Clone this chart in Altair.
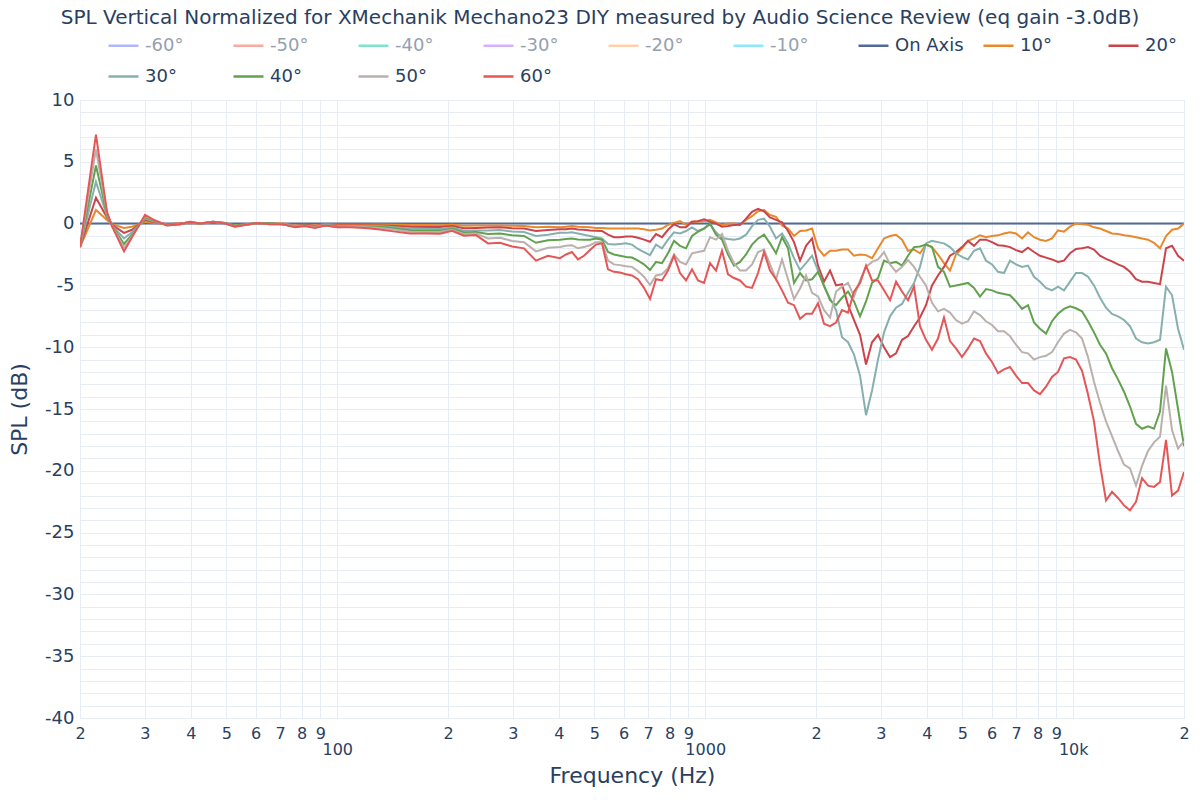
import altair as alt
import pandas as pd

TITLE = "SPL Vertical Normalized for XMechanik Mechano23 DIY measured by Audio Science Review (eq gain -3.0dB)"

SERIES = ["-60°", "-50°", "-40°", "-30°", "-20°", "-10°", "On Axis",
          "10°", "20°", "30°", "40°", "50°", "60°"]
COLORS = ["#b1b6fc", "#f7aa9d", "#7fe5ca", "#d5b1fc", "#ffd0ac", "#8ce9f9", "#53699c",
          "#e8892b", "#cc4449", "#86b0ae", "#62a14e", "#bab0ac", "#e45756"]
HIDDEN = SERIES[:6]

FREQ = [
    20.0, 22.1, 23.68, 24.43, 26.34, 27.69, 30.04, 31.99, 34.47, 37.39,
    39.81, 42.39, 45.97, 49.55, 52.76, 56.51, 60.54, 65.66, 71.23, 76.77,
    81.74, 87.01, 92.63, 100.5, 108.4, 119.0, 130.7, 143.6, 157.7, 173.2,
    190.2, 205.1, 221.1, 238.3, 256.9, 276.9, 298.6, 321.8, 346.8, 373.9,
    403.0, 418.4, 434.4, 451.0, 468.3, 486.2, 504.8, 524.1, 544.2, 565.0,
    586.7, 609.1, 632.5, 656.6, 681.8, 707.9, 734.9, 763.0, 792.2, 822.6,
    854.1, 886.8, 920.7, 955.9, 992.5, 1030.5, 1069.9, 1110.8, 1153.3, 1197.4,
    1243.3, 1290.9, 1340.3, 1391.5, 1444.8, 1500.0, 1557.4, 1617.0, 1678.9, 1743.1,
    1809.8, 1879.0, 1950.9, 2025.6, 2103.1, 2183.5, 2267.1, 2353.8, 2443.9, 2537.3,
    2634.4, 2735.2, 2839.8, 2948.5, 3061.3, 3178.4, 3300.0, 3426.3, 3557.4, 3693.5,
    3833.6, 3980.3, 4132.6, 4290.7, 4454.8, 4625.2, 4802.2, 4985.9, 5176.7, 5374.7,
    5581, 5794, 6016, 6246, 6485, 6733, 6991, 7259, 7536, 7825,
    8123, 8434, 8756, 9091, 9439, 9800, 10175, 10564, 10968, 11388,
    11825, 12277, 12747, 13235, 13741, 14267, 14813, 15380, 15968, 16579,
    17214, 17873, 18557, 19267, 20000]

ON_AXIS_FREQ = [20, 20000]
ON_AXIS_DB = [0.0, 0.0]

DB_10 = [
    -1.9, 1.1, 0.3, -0.05, -0.35, -0.25, 0.15, 0.05, -0.05, 0.0,
    0.05, 0.0, 0.1, 0.05, -0.15, -0.05, 0.05, 0.0, 0.0, -0.15,
    -0.1, -0.15, -0.05, -0.1, -0.1, -0.1, -0.07, -0.1, -0.12, -0.12,
    -0.13, -0.1, -0.18, -0.15, -0.16, -0.15, -0.18, -0.2, -0.3, -0.25,
    -0.3, -0.25, -0.2, -0.25, -0.28, -0.3, -0.35, -0.35, -0.4, -0.4,
    -0.4, -0.4, -0.4, -0.4, -0.45, -0.55, -0.5, -0.4, -0.1, 0.05,
    0.2, -0.1, 0.15, 0.15, 0.2, 0.3, 0.1, -0.1, 0.0, 0.0,
    -0.1, 0.3, 0.6, 1.0, 1.1, 0.7, 0.55, -0.15, -0.4, -1.0,
    -0.6, -0.55, -0.4, -2.0, -2.6, -2.2, -2.2, -2.1, -2.1, -2.6,
    -2.5, -2.55, -2.8, -2.0, -1.2, -1.0, -0.9, -1.3, -2.2, -2.1,
    -2.4, -1.7, -1.9, -2.5, -3.2, -3.8, -2.5, -2.0, -1.4, -1.2,
    -0.95, -1.1, -1.0, -0.95, -0.8, -0.7, -0.8, -1.2, -0.7, -1.1,
    -1.3, -1.4, -1.2, -0.55, -0.65, -0.25, 0.0, -0.05, -0.1, -0.3,
    -0.4, -0.6, -0.8, -0.85, -0.95, -1.0, -1.1, -1.2, -1.3, -1.55,
    -2.0, -1.0, -0.5, -0.4, 0.0]

DB_20 = [
    -1.9, 2.1, 0.5, -0.1, -0.75, -0.5, 0.3, 0.1, -0.05, 0.0,
    0.1, 0.0, 0.1, 0.05, -0.2, -0.1, 0.05, 0.0, -0.05, -0.2,
    -0.1, -0.2, -0.1, -0.15, -0.15, -0.15, -0.15, -0.2, -0.26, -0.27,
    -0.28, -0.2, -0.38, -0.35, -0.32, -0.3, -0.37, -0.4, -0.6, -0.52,
    -0.45, -0.45, -0.4, -0.47, -0.5, -0.55, -0.58, -0.6, -0.9, -1.1,
    -1.1, -1.05, -1.05, -1.15, -1.3, -1.47, -0.85, -1.1, -0.5, -0.05,
    -0.3, -0.3, 0.15, 0.2, 0.35, 0.15, 0.0, -0.25, -0.2, -0.12,
    -0.1, 0.4, 0.95, 1.2, 1.0, 0.5, 0.3, 0.1, -0.6, -1.5,
    -3.0, -1.8, -1.2, -3.4, -4.7, -3.8, -5.0, -4.9, -6.6, -7.8,
    -9.0, -11.4, -9.6, -9.0, -10.0, -10.8, -10.5, -9.4, -9.1, -8.3,
    -7.6, -6.6, -5.0, -4.2, -3.5, -2.6, -2.3, -1.9, -1.4, -1.8,
    -1.3, -1.3, -1.5, -1.75, -1.8, -1.9, -2.15, -2.3, -1.95, -2.3,
    -2.6, -2.75, -2.9, -3.1, -3.0, -2.4, -2.05, -2.0, -1.9, -2.1,
    -2.6, -2.85, -3.05, -3.3, -3.5, -3.9, -4.5, -4.7, -4.7, -4.8,
    -4.9, -2.0, -1.8, -2.6, -3.0]

DB_30 = [
    -1.9, 3.4, 0.6, -0.15, -1.2, -0.7, 0.4, 0.15, -0.1, -0.05,
    0.1, 0.0, 0.15, 0.05, -0.2, -0.1, 0.05, 0.0, -0.05, -0.2,
    -0.15, -0.25, -0.1, -0.2, -0.2, -0.2, -0.2, -0.3, -0.42, -0.42,
    -0.43, -0.32, -0.58, -0.55, -0.55, -0.52, -0.63, -0.68, -1.0, -0.9,
    -0.75, -0.75, -0.7, -0.8, -0.9, -1.0, -1.1, -1.2, -1.65, -1.7,
    -1.65, -1.6, -1.7, -2.05, -2.3, -2.55, -1.7, -2.0, -1.3, -0.7,
    -0.8, -0.6, -0.3, -0.6, -0.4, -0.05, -0.7, -1.15, -1.25, -1.3,
    -1.2, -0.9, -0.2, 0.3, 0.4, -0.25, -1.2, -0.8, -1.6, -2.8,
    -3.76, -3.2, -2.6, -3.8, -5.1, -6.05, -7.0, -9.2, -9.6, -10.6,
    -12.3, -15.5, -13.5, -11.0, -8.8, -7.5, -6.8, -6.5, -5.6, -4.8,
    -3.5, -1.6, -1.4, -1.5, -1.6, -1.9, -2.4, -2.7, -2.9, -2.2,
    -2.0, -3.0, -3.3, -3.9, -4.0, -3.0, -3.3, -3.5, -3.4, -4.3,
    -4.7, -5.2, -5.4, -5.1, -5.4, -4.7, -4.0, -4.0, -4.3, -5.0,
    -6.0, -6.8, -7.3, -7.5, -7.8, -8.3, -9.3, -9.6, -9.7, -9.6,
    -9.4, -5.1, -5.8, -8.5, -10.2]

DB_40 = [
    -1.9, 4.7, 0.75, -0.15, -1.65, -0.9, 0.5, 0.2, -0.1, -0.05,
    0.1, 0.0, 0.15, 0.05, -0.2, -0.1, 0.05, 0.0, -0.05, -0.25,
    -0.15, -0.3, -0.15, -0.25, -0.25, -0.25, -0.25, -0.4, -0.53, -0.55,
    -0.57, -0.42, -0.72, -0.68, -0.85, -0.8, -0.95, -1.0, -1.55, -1.35,
    -1.3, -1.25, -1.2, -1.28, -1.3, -1.3, -1.2, -1.3, -2.3, -2.5,
    -2.6, -2.7, -2.75, -3.0, -3.3, -3.76, -3.1, -3.2, -2.4, -1.4,
    -1.8, -2.0, -1.0, -0.65, -0.4, 0.0, -0.9, -1.3, -2.5, -3.4,
    -3.1, -2.5, -1.7, -1.2, -0.9, -1.6, -2.4, -1.1, -2.0, -4.8,
    -4.0, -4.6, -4.5, -3.9, -5.0, -6.2, -6.6, -6.0, -5.5, -6.3,
    -7.5, -6.3, -4.8, -4.4, -3.0, -3.2, -3.1, -3.4, -2.6, -1.9,
    -1.85, -1.7, -1.9, -3.5, -3.9, -5.1, -5.0, -4.9, -4.8, -5.2,
    -5.9, -5.3, -5.4, -5.6, -5.7, -5.8, -6.3, -6.9, -6.6, -8.0,
    -8.5, -8.9, -7.9, -7.3, -6.9, -6.7, -6.85, -7.1, -7.9, -8.8,
    -9.8, -10.5, -11.7, -12.6, -13.6, -14.8, -16.2, -16.6, -16.4, -16.6,
    -15.2, -10.1, -12.0, -15.0, -18.0]

DB_50 = [
    -1.9, 6.0, 0.85, -0.2, -1.95, -1.0, 0.6, 0.25, -0.15, -0.05,
    0.15, 0.0, 0.15, 0.0, -0.25, -0.1, 0.05, -0.05, -0.05, -0.25,
    -0.2, -0.3, -0.15, -0.3, -0.25, -0.3, -0.36, -0.5, -0.66, -0.68,
    -0.68, -0.5, -0.85, -0.8, -1.2, -1.15, -1.4, -1.5, -2.25, -1.95,
    -1.9, -1.8, -1.75, -2.0, -1.9, -1.75, -1.5, -1.5, -3.0, -3.3,
    -3.36, -3.45, -3.5, -3.85, -4.3, -4.97, -4.2, -4.1, -3.6, -2.5,
    -3.1, -3.3, -2.4, -2.3, -2.2, -1.1, -1.3, -0.85, -2.2, -3.2,
    -3.8, -3.8, -3.3, -2.3, -2.1, -3.3, -4.5, -2.9, -4.5, -6.1,
    -5.25, -4.2, -5.6, -5.9, -7.0, -7.6, -5.5, -5.1, -4.8, -5.9,
    -4.6, -3.5, -3.1, -2.9, -2.3, -3.3, -3.9, -3.5, -2.95, -3.5,
    -4.3, -5.0, -6.4, -7.1, -6.9, -7.2, -7.8, -8.1, -7.9, -7.1,
    -7.4, -7.9, -8.2, -8.7, -8.7, -9.1, -9.8, -10.4, -10.5, -11.0,
    -10.8, -10.7, -10.4, -9.6, -8.9, -8.6, -8.8, -9.3, -10.8, -12.8,
    -14.5, -16.0, -17.2, -18.4, -19.5, -19.8, -21.2, -19.6, -18.4, -17.7,
    -17.25, -13.1, -16.7, -18.2, -17.6]

DB_60 = [
    -1.9, 7.2, 0.95, -0.2, -2.25, -1.1, 0.7, 0.25, -0.15, -0.05,
    0.15, 0.0, 0.15, 0.0, -0.25, -0.1, 0.05, -0.05, -0.05, -0.3,
    -0.2, -0.35, -0.15, -0.3, -0.3, -0.35, -0.47, -0.65, -0.8, -0.8,
    -0.82, -0.58, -0.98, -0.93, -1.6, -1.55, -1.85, -2.0, -3.0, -2.6,
    -2.8, -2.5, -2.3, -2.9, -2.6, -2.14, -1.7, -1.6, -3.7, -3.9,
    -3.95, -4.1, -4.2, -4.5, -5.2, -6.1, -4.5, -4.6, -3.8, -2.6,
    -4.0, -4.6, -3.7, -4.6, -4.8, -3.2, -3.8, -2.2, -4.1, -4.4,
    -4.6, -5.1, -5.2, -4.0, -2.3, -3.8, -4.5, -5.4, -6.4, -6.6,
    -7.7, -7.3, -7.3, -6.45, -8.1, -8.3, -8.0, -7.0, -7.2, -5.5,
    -4.8, -3.4, -4.6, -4.6, -5.4, -6.2, -4.7, -5.5, -6.2, -5.1,
    -8.3, -9.4, -10.2, -9.3, -7.6, -9.5, -10.1, -10.8, -10.1, -9.3,
    -9.5, -10.5, -11.2, -12.1, -11.8, -11.6, -12.3, -12.9, -12.9, -13.5,
    -13.8, -13.2, -12.4, -12.0, -10.9, -10.8, -11.0, -11.9, -13.8, -16.0,
    -19.5, -22.4, -21.7, -22.2, -22.8, -23.2, -22.5, -20.6, -21.2, -21.3,
    -20.9, -17.5, -22.0, -21.6, -20.1]

X_TICKS = [20, 30, 40, 50, 60, 70, 80, 90,
           100, 200, 300, 400, 500, 600, 700, 800, 900,
           1000, 2000, 3000, 4000, 5000, 6000, 7000, 8000, 9000,
           10000, 20000]
Y_TICKS = list(range(-40, 11))

rows = []
for f, v in zip(ON_AXIS_FREQ, ON_AXIS_DB):
    rows.append({"freq": f, "spl": v, "series": "On Axis"})
for name, vals in [("10°", DB_10), ("20°", DB_20), ("30°", DB_30),
                   ("40°", DB_40), ("50°", DB_50), ("60°", DB_60)]:
    for f, v in zip(FREQ, vals):
        rows.append({"freq": f, "spl": v, "series": name})
df = pd.DataFrame(rows)

TXT = "#2a3f5f"
GRID = "#e8edf5"
FONT = "DejaVu Sans"

hidden_list = "[" + ",".join("'" + h + "'" for h in HIDDEN) + "]"

x_label_expr = ("datum.value == 100 ? ['', '100'] : datum.value == 1000 ? ['', '1000'] : "
                "datum.value == 10000 ? ['', '10k'] : substring(toString(datum.value), 0, 1)")

chart = alt.Chart(df).mark_line(strokeWidth=2, clip=True).encode(
    x=alt.X("freq:Q",
            scale=alt.Scale(type="log", domain=[20, 20000], nice=False),
            axis=alt.Axis(values=X_TICKS, labelExpr=x_label_expr, grid=True, gridColor=GRID,
                          ticks=False, domain=False, labelFontSize=16, labelColor=TXT,
                          labelFont=FONT, labelPadding=7, labelFlush=False, labelOverlap=False,
                          labelLineHeight=16, title="Frequency (Hz)", titleFontSize=22,
                          titleFont=FONT, titleFontWeight="normal", titleColor=TXT,
                          titleY=64, titleBaseline="alphabetic")),
    y=alt.Y("spl:Q",
            scale=alt.Scale(domain=[-40, 10], nice=False, zero=False),
            axis=alt.Axis(values=Y_TICKS,
                          labelExpr="datum.value % 5 == 0 ? toString(datum.value) : ''",
                          grid=True, gridColor=GRID, ticks=False, domain=False,
                          labelFontSize=18, labelColor=TXT, labelFont=FONT, labelPadding=6,
                          labelOverlap=False,
                          title="SPL (dB)", titleFontSize=22, titleFont=FONT,
                          titleFontWeight="normal", titleColor=TXT, titlePadding=13)),
    color=alt.Color("series:N",
                    scale=alt.Scale(domain=SERIES, range=COLORS),
                    legend=alt.Legend(title=None, orient="none", legendX=27, legendY=-71,
                                      direction="horizontal", columns=9, symbolType="stroke",
                                      symbolSize=900, symbolStrokeWidth=2.5,
                                      labelFontSize=18, labelFont=FONT,
                                      labelColor={"expr": "indexof(" + hidden_list +
                                                  ", datum.label) >= 0 ? '#95a0b0' : '" + TXT + "'"},
                                      labelOffset=5, columnPadding=14, rowPadding=5,
                                      gridAlign="all", labelLimit=300)),
    order=alt.Order("freq:Q"),
).properties(
    width=1104,
    height=618,
    padding={"left": 72, "top": 92, "right": 6, "bottom": 70},
    autosize=alt.AutoSizeParams(type="none"),
    title=alt.TitleParams(text=TITLE, anchor="middle", dx=-32, dy=3, fontSize=20, font=FONT,
                          fontWeight="normal", color=TXT, offset=4),
    background="white",
).configure_view(stroke=None).configure(font=FONT)

chart.save("out.html", embed_options={"renderer": "svg", "actions": False})
